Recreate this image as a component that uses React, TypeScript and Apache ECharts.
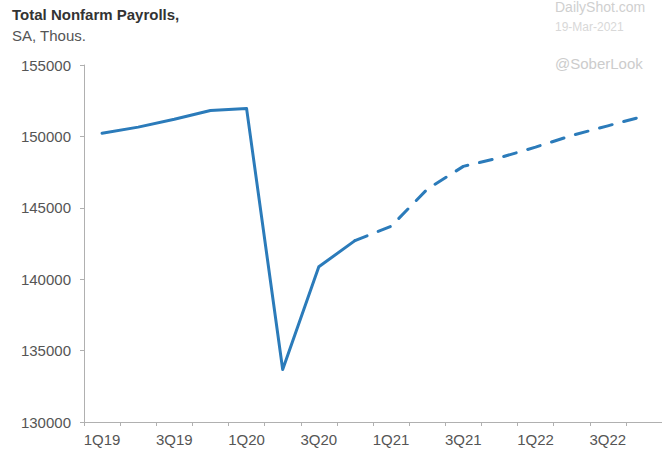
import React, { useEffect, useRef } from "react";
import * as echarts from "echarts";

const categories = [
  "1Q19", "2Q19", "3Q19", "4Q19",
  "1Q20", "2Q20", "3Q20", "4Q20",
  "1Q21", "2Q21", "3Q21", "4Q21",
  "1Q22", "2Q22", "3Q22", "4Q22",
];

const actualValues: (number | null)[] = [
  150220, 150650, 151200, 151810,
  151960, 133680, 140870, 142700,
  null, null, null, null,
  null, null, null, null,
];

const forecastValues: (number | null)[] = [
  null, null, null, null,
  null, null, null, 142700,
  143700, 146300, 147900, 148500,
  149250, 150060, 150740, 151420,
];

const titleText = "Total Nonfarm Payrolls,";
const subtitleText = "SA, Thous.";
const sourceText = "DailyShot.com";
const dateText = "19-Mar-2021";
const handleText = "@SoberLook";

const LINE_COLOR = "#2B7BBA";
const FONT = "'Liberation Sans', Arial, sans-serif";

export default function App() {
  const ref = useRef<HTMLDivElement>(null);

  useEffect(() => {
    if (!ref.current) return;
    const chart = echarts.init(ref.current, undefined, { renderer: "svg" });
    chart.setOption({
      animation: false,
      backgroundColor: "#ffffff",
      textStyle: { fontFamily: FONT },
      grid: { left: 84, right: -9, top: 65, bottom: 27, containLabel: false },
      xAxis: {
        type: "category",
        data: categories,
        boundaryGap: true,
        axisLine: { show: true, lineStyle: { color: "#b0b0b0", width: 1 } },
        axisTick: { show: true, interval: 0, length: 4, lineStyle: { color: "#b0b0b0" } },
        axisLabel: {
          interval: 1,
          margin: 10,
          color: "#555555",
          fontSize: 15,
          fontFamily: FONT,
        },
        splitLine: { show: false },
      },
      yAxis: {
        type: "value",
        min: 130000,
        max: 155000,
        interval: 5000,
        axisLine: { show: true, lineStyle: { color: "#b0b0b0", width: 1 } },
        axisTick: { show: true, length: 4, lineStyle: { color: "#b0b0b0" } },
        axisLabel: {
          margin: 13,
          color: "#555555",
          fontSize: 15,
          fontFamily: FONT,
          formatter: (v: number) => String(v),
        },
        splitLine: { show: false },
      },
      graphic: [
        {
          type: "text",
          left: 12,
          top: 7,
          style: {
            text: titleText,
            fontSize: 15,
            fontWeight: "bold",
            fill: "#333333",
            fontFamily: FONT,
          },
        },
        {
          type: "text",
          left: 12,
          top: 28,
          style: {
            text: subtitleText,
            fontSize: 15,
            fill: "#555555",
            fontFamily: FONT,
          },
        },
        {
          type: "text",
          left: 555,
          top: 0,
          style: {
            text: sourceText,
            fontSize: 14,
            fill: "#cfcfcf",
            fontFamily: FONT,
          },
        },
        {
          type: "text",
          left: 555,
          top: 21,
          style: {
            text: dateText,
            fontSize: 12,
            fill: "#d8d8d8",
            fontFamily: FONT,
          },
        },
        {
          type: "text",
          left: 555,
          top: 56,
          style: {
            text: handleText,
            fontSize: 15,
            fill: "#cccccc",
            fontFamily: FONT,
          },
        },
      ],
      series: [
        {
          name: "Actual",
          type: "line",
          data: actualValues,
          showSymbol: false,
          symbol: "none",
          connectNulls: false,
          lineStyle: { color: LINE_COLOR, width: 3, cap: "round", join: "round" },
          itemStyle: { color: LINE_COLOR },
        },
        {
          name: "Forecast",
          type: "line",
          data: forecastValues,
          showSymbol: false,
          symbol: "none",
          connectNulls: false,
          lineStyle: { color: LINE_COLOR, width: 3, type: [13, 12], cap: "round" },
          itemStyle: { color: LINE_COLOR },
        },
      ],
    });
    return () => chart.dispose();
  }, []);

  return (
    <div
      ref={ref}
      style={{ position: "fixed", left: 0, top: 0, width: 662, height: 449, overflow: "hidden" }}
    />
  );
}
